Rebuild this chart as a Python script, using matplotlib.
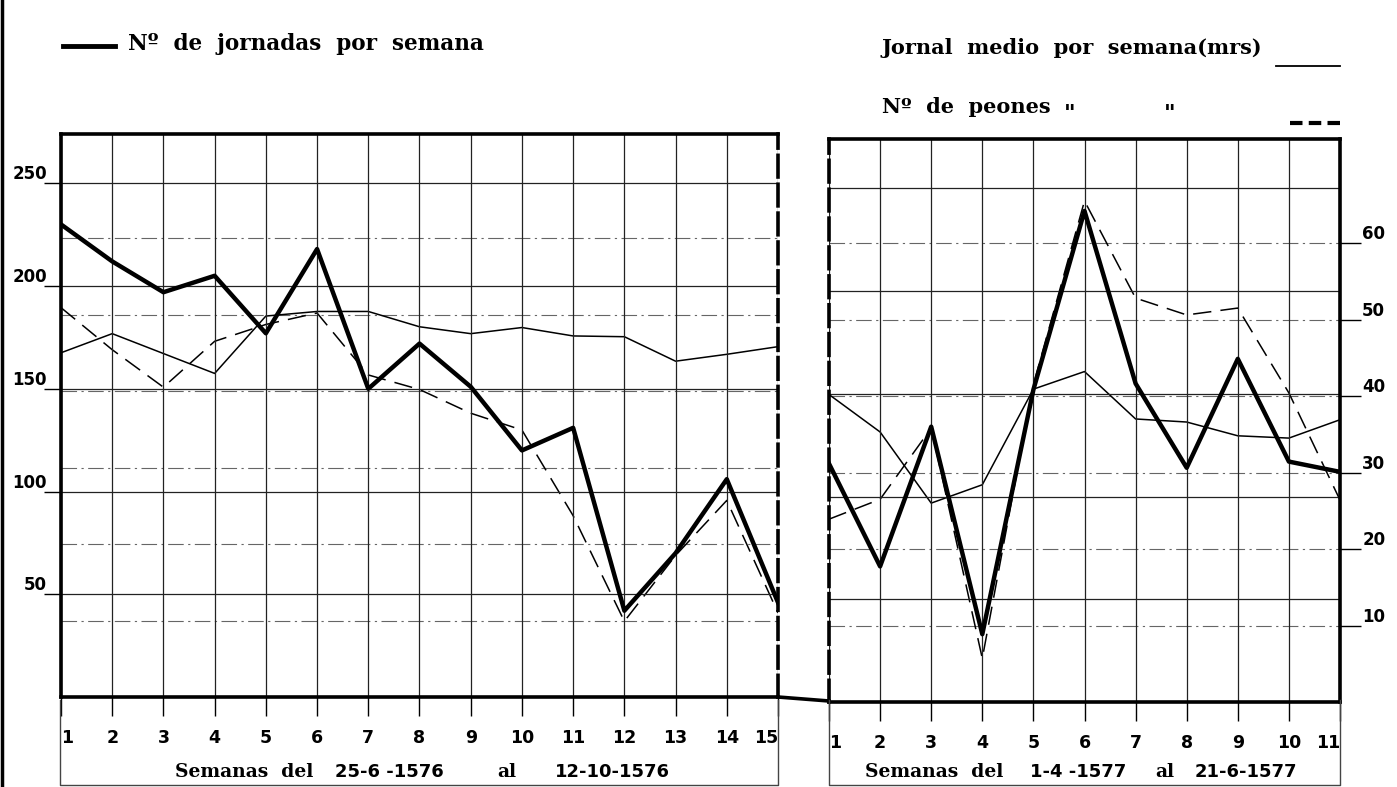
import numpy as np
import matplotlib.pyplot as plt
from matplotlib.lines import Line2D

# weeks of each period
weeks_1576 = np.arange(1, 16)
weeks_1577 = np.arange(1, 12)
week_labels_1576 = [str(w) for w in weeks_1576]
week_labels_1577 = [str(w) for w in weeks_1577]

# Nº de jornadas por semana (left scale)
jornadas_1576 = [230, 212, 197, 205, 177, 218, 150, 172, 151, 120, 131, 42, 70, 106, 46]
jornadas_1577 = [116, 66, 134, 33, 152, 239, 155, 114, 167, 117, 112]

# Jornal medio por semana, mrs (right scale)
jornal_1576 = [45.0, 47.5, 44.9, 42.3, 49.8, 50.4, 50.4, 48.4, 47.5, 48.3, 47.2, 47.1, 43.9, 44.8, 45.8]
jornal_1577 = [40.2, 35.3, 26.0, 28.4, 40.9, 43.2, 37.0, 36.6, 34.8, 34.5, 36.9]

# Nº de peones por semana (right scale)
peones_1576 = [50.9, 45.4, 40.5, 46.5, 48.7, 50.2, 42.1, 40.2, 37.1, 34.9, 23.7, 9.9, 18.5, 25.7, 11.0]
peones_1577 = [23.9, 26.5, 35.8, 5.7, 41.5, 65.5, 52.8, 50.6, 51.5, 40.4, 26.4]

left_ticks = [50, 100, 150, 200, 250]
right_ticks = [10, 20, 30, 40, 50, 60]

SANS = ['DejaVu Sans']
SERIF = ['DejaVu Serif']

W, H = 1397, 787
fig = plt.figure(figsize=(W / 100, H / 100), dpi=100)


def rect(x0, y0, x1, y1):
    return [x0 / W, 1 - y1 / H, (x1 - x0) / W, (y1 - y0) / H]


def fline(xs, ys, **kw):
    fig.add_artist(Line2D([x / W for x in xs], [1 - y / H for y in ys],
                          transform=fig.transFigure, **kw))


def ftext(x, y, s, **kw):
    fig.text(x / W, 1 - y / H, s, va='center', ha='left', **kw)


def panel(ax, weeks, labels, jornadas, jornal, peones, side):
    tw = ax.twinx()
    ax.set_zorder(tw.get_zorder() + 1)
    ax.patch.set_visible(False)
    ax.set_xlim(weeks[0], weeks[-1])
    ax.set_ylim(0, 274)
    tw.set_ylim(0, 73.6)

    for w in weeks:
        ax.axvline(w, color='#222222', lw=0.9, zorder=1)
    for g in left_ticks:
        ax.axhline(g, color='#222222', lw=0.9, zorder=1)
    for g in right_ticks:
        tw.axhline(g, color='#666666', lw=0.8, ls=(0, (14, 4, 2, 4)), zorder=1)

    ax.plot(weeks, jornadas, color='black', lw=3.2, zorder=4)
    tw.plot(weeks, jornal, color='black', lw=1.1, zorder=3)
    tw.plot(weeks, peones, color='black', lw=1.1, ls=(0, (12, 6)), zorder=3)

    for s in tw.spines.values():
        s.set_visible(False)
    for s in ax.spines.values():
        s.set_linewidth(2.6)
    if side == 'left':
        ax.spines['right'].set_linestyle((0, (6, 2)))
    else:
        ax.spines['left'].set_linestyle((0, (6, 2)))

    ax.set_xticks(weeks)
    ax.set_xticklabels(labels, family=SANS, fontweight='bold', fontsize=12.5)
    ax.tick_params(axis='x', length=14, width=1, pad=9)
    tl = ax.get_xticklabels()
    tl[0].set_ha('left')
    tl[-1].set_ha('right')

    if side == 'left':
        ax.set_yticks(left_ticks)
        ax.set_yticklabels([str(t) for t in left_ticks], family=SANS,
                           fontweight='bold', fontsize=12)
        ax.tick_params(axis='y', length=12, width=1, pad=-2)
        for t in ax.get_yticklabels():
            t.set_va('bottom')
        tw.set_yticks([])
    else:
        ax.set_yticks([])
        tw.set_yticks(right_ticks)
        tw.set_yticklabels([str(t) for t in right_ticks], family=SANS,
                           fontweight='bold', fontsize=12)
        tw.tick_params(axis='y', length=15, width=1, pad=1)
        for t in tw.get_yticklabels():
            t.set_va('bottom')


ax1 = fig.add_axes(rect(61, 134, 778, 697))
ax2 = fig.add_axes(rect(829, 139, 1340, 702))
panel(ax1, weeks_1576, week_labels_1576, jornadas_1576, jornal_1576, peones_1576, 'left')
panel(ax2, weeks_1577, week_labels_1577, jornadas_1577, jornal_1577, peones_1577, 'right')

# page edge, bottom line across the gap, frames under the axes
fline([2, 2], [0, H], color='black', lw=2.5)
fline([778, 829], [697, 701], color='black', lw=2.6)
for x0, x1 in [(60, 778), (829, 1340)]:
    fline([x0, x0, x1, x1], [700, 785, 785, 700], color='#444444', lw=1)

# legend
fline([63, 115], [46, 46], color='black', lw=3.5)
ftext(128, 44, 'Nº  de  jornadas  por  semana', family=SERIF, fontweight='bold', fontsize=15.5)
ftext(882, 48, 'Jornal  medio  por  semana(mrs)', family=SERIF, fontweight='bold', fontsize=15)
fline([1276, 1340], [66, 66], color='black', lw=1.3)
ftext(882, 107, 'Nº  de  peones', family=SERIF, fontweight='bold', fontsize=15)
ftext(1064, 114, '"', family=SANS, fontweight='bold', fontsize=16)
ftext(1164, 114, '"', family=SANS, fontweight='bold', fontsize=16)
fline([1290, 1340], [123, 123], color='black', lw=3, ls=(0, (3, 1.5)))

# x-axis captions
for x, s, fam in [(175, 'Semanas  del', SERIF), (335, '25-6 -1576', SANS),
                  (497, 'al', SERIF), (555, '12-10-1576', SANS),
                  (865, 'Semanas  del', SERIF), (1030, '1-4 -1577', SANS),
                  (1155, 'al', SERIF), (1195, '21-6-1577', SANS)]:
    ftext(x, 772, s, family=fam, fontweight='bold', fontsize=13.5 if fam == SERIF else 13)

fig.savefig('out.png', dpi=100)
